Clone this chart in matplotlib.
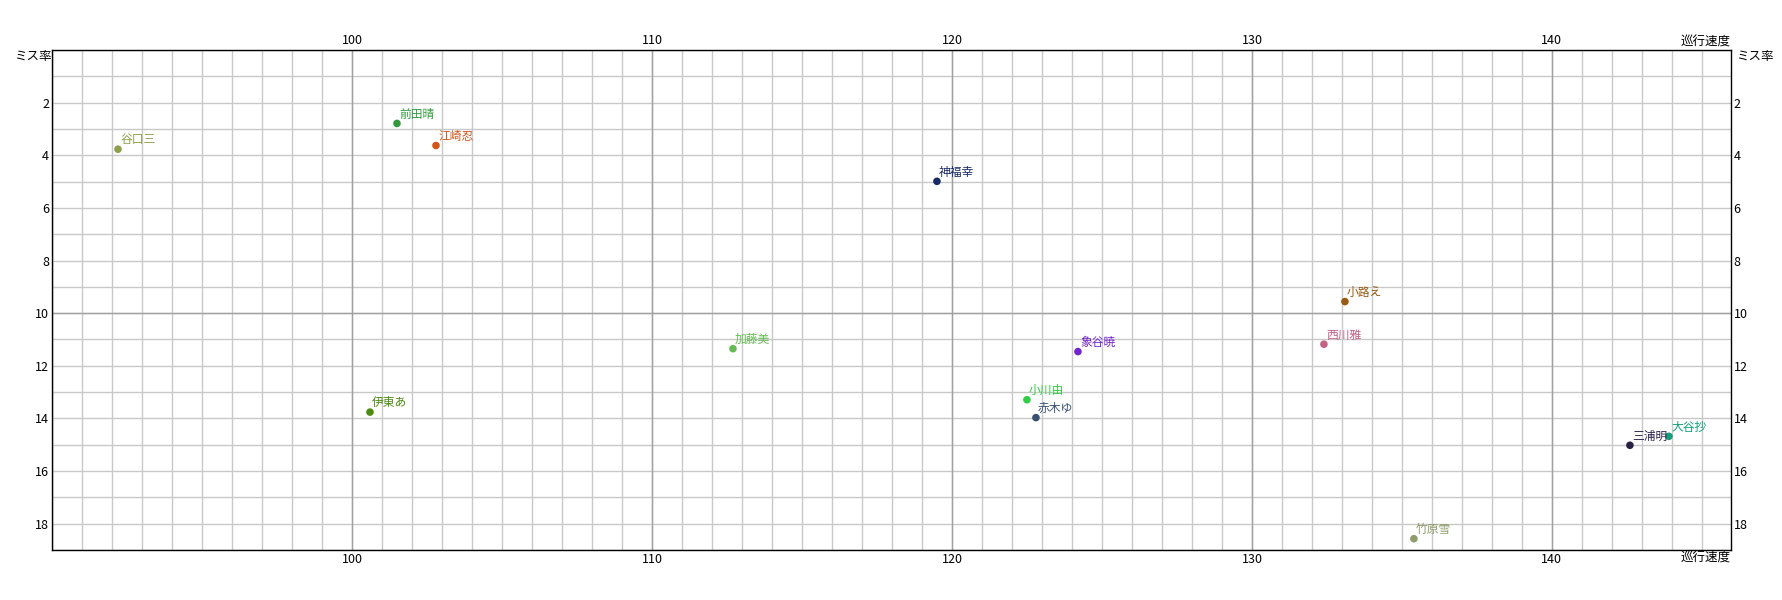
import matplotlib
matplotlib.use('Agg')
import matplotlib.pyplot as plt
from matplotlib.ticker import MultipleLocator, FixedLocator

plt.rcParams['font.family'] = ['Noto Sans CJK JP', 'DejaVu Sans']

# data
names = ['谷口三', '前田晴', '江崎忍', '神福幸', '小路え', '西川雅', '加藤美',
         '象谷暁', '小川由', '赤木ゆ', '三浦明', '大谷抄', '竹原雪', '伊東あ']
speed = [92.2, 101.5, 102.8, 119.5, 133.1, 132.4, 112.7,
         124.2, 122.5, 122.8, 142.6, 143.9, 135.4, 100.6]
miss = [3.77, 2.79, 3.63, 4.99, 9.56, 11.18, 11.35,
        11.46, 13.29, 13.97, 15.02, 14.68, 18.57, 13.76]
colors = ['#8DA04A', '#33993F', '#D2561C', '#1A2A66', '#995A12', '#C46285', '#66BB55',
          '#7424CC', '#33CC44', '#3A5272', '#2A2046', '#12A07A', '#909C6A', '#4C8A12']

xticks = [100, 110, 120, 130, 140]
yticks = [2, 4, 6, 8, 10, 12, 14, 16, 18]
xlabel = '巡行速度'
ylabel = 'ミス率'

fig = plt.figure(figsize=(17.82, 6), dpi=100)
ax = fig.add_axes([52 / 1782, 1 - 550 / 600, 1678.7 / 1782, 500 / 600])

ax.set_xlim(90, 145.96)
ax.set_ylim(19, 0)

# grid: light every unit, darker every 10
ax.xaxis.set_major_locator(FixedLocator(xticks))
ax.yaxis.set_major_locator(FixedLocator(yticks))
ax.xaxis.set_minor_locator(MultipleLocator(1))
ax.yaxis.set_minor_locator(MultipleLocator(1))
ax.grid(which='both', color='#C8C8C8', linewidth=1)
ax.set_axisbelow(True)
for v in range(90, 146, 10):
    ax.axvline(v, color='#A0A0A0', linewidth=1, zorder=0.6)
ax.axhline(10, color='#A0A0A0', linewidth=1, zorder=0.6)

ax.tick_params(which='both', length=0, labelsize=9, pad=2,
               top=True, labeltop=True, right=True, labelright=True)

for s in ax.spines.values():
    s.set_color('black')
    s.set_linewidth(1)

ax.scatter(speed, miss, s=30, c=colors, zorder=3, linewidths=0)
for n, x, y, c in zip(names, speed, miss, colors):
    ax.annotate(n, (x, y), xytext=(1.5, 2), textcoords='offset points',
                fontsize=8.5, color=c, ha='left', va='bottom', zorder=4)

ax.text(0, 1, ylabel, transform=ax.transAxes, ha='right', va='top', fontsize=9)
ax.text(1.003, 1, ylabel, transform=ax.transAxes, ha='left', va='top', fontsize=9)
ax.text(1, 1.003, xlabel, transform=ax.transAxes, ha='right', va='bottom', fontsize=9)
ax.text(1, -0.003, xlabel, transform=ax.transAxes, ha='right', va='top', fontsize=9)

fig.savefig('out.png', dpi=100, facecolor='white')
